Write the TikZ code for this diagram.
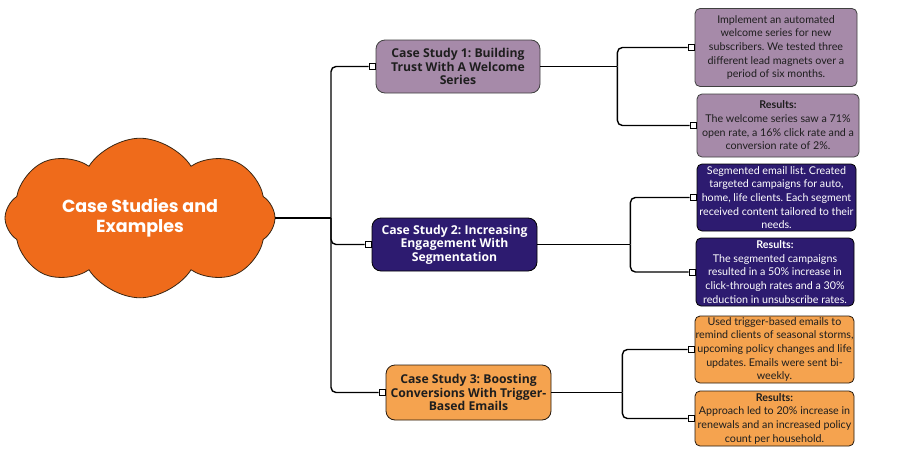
\documentclass[tikz,border=0pt]{standalone}
\usepackage{fontspec}
\setmainfont{Lato}
\newfontfamily\labelfont{Open Sans}
\newfontfamily\cloudfont{Poppins}
\usetikzlibrary{shapes.symbols}
\definecolor{cloudorange}{HTML}{EF6B1B}
\definecolor{cspurple}{HTML}{A68AA9}
\definecolor{csindigo}{HTML}{2D1B70}
\definecolor{csorange}{HTML}{F5A34F}
\definecolor{darktext}{HTML}{1E1E1E}
\tikzset{
  conn/.style={line width=1.4pt, rounded corners=5pt, draw=black},
  sq/.style={draw=black, fill=white, line width=1pt, minimum size=6pt, inner sep=0pt},
  csbox/.style={rounded corners=9pt, draw=black!75, line width=0.8pt, align=center, inner sep=0pt,
     font=\labelfont\fontsize{12.2}{13.4}\selectfont\bfseries},
  detbox/.style={rounded corners=5pt, draw=black!75, line width=0.8pt, align=center, inner sep=0pt,
     font=\frenchspacing\fontsize{10.7}{13.7}\selectfont},
  p1/.style={fill=cspurple, text=darktext},
  p2/.style={fill=csindigo, text=white, draw=black},
  p3/.style={fill=csorange, text=darktext, draw=black!80!brown},
}
\begin{document}
\frenchspacing
\begin{tikzpicture}[x=1pt,y=-1pt]
\useasboundingbox[fill=white] (0,0) rectangle (900,450);

% central cloud
\node[cloud, cloud puffs=8, cloud puff arc=115, aspect=1.8, draw=black!70!brown, fill=cloudorange,
      line width=0.8pt, minimum width=270pt, minimum height=150pt, inner sep=0pt,
      text=white, align=center, font=\cloudfont\fontsize{17.5}{20.5}\selectfont\bfseries]
      (cloud) at (140,218) {Case Studies and\\Examples};

% case studies
\node[csbox,p1,minimum width=164pt,minimum height=53pt] (cs1) at (458,66.5)
  {Case Study 1: Building\\Trust With A Welcome\\Series};
\node[csbox,p2,minimum width=165pt,minimum height=53pt] (cs2) at (454.5,244.5)
  {Case Study 2: Increasing\\Engagement With\\Segmentation};
\node[csbox,p3,minimum width=165pt,minimum height=55pt] (cs3) at (468.5,392.5)
  {Case Study 3: Boosting\\Conversions With Trigger-\\Based Emails};

% details
\node[detbox,p1,minimum width=162pt,minimum height=78pt] (r1a) at (776,47.5)
  {Implement an automated\\welcome series for new\\subscribers. We tested three\\different lead magnets over a\\period of six months.};
\node[detbox,p1,minimum width=162pt,minimum height=63pt] (r1b) at (778,125.5)
  {\textbf{Results:}\\The welcome series saw a 71\%\\open rate, a 16\% click rate and a\\conversion rate of 2\%.};
\node[detbox,p2,minimum width=159pt,minimum height=67pt] (r2a) at (776.5,197.5)
  {Segmented email list. Created\\targeted campaigns for auto,\\home, life clients. Each segment\\received content tailored to their\\needs.};
\node[detbox,p2,minimum width=158pt,minimum height=68pt] (r2b) at (775,272)
  {\textbf{Results:}\\The segmented campaigns\\resulted in a 50\% increase in\\click-through rates and a 30\%\\reduction in unsubscribe rates.};
\node[detbox,p3,minimum width=159pt,minimum height=67pt] (r3a) at (774.5,349.5)
  {Used trigger-based emails to\\remind clients of seasonal storms,\\upcoming policy changes and life\\updates. Emails were sent bi-\\weekly.};
\node[detbox,p3,minimum width=159pt,minimum height=55pt] (r3b) at (774.5,418.5)
  {\textbf{Results:}\\Approach led to 20\% increase in\\renewals and an increased policy\\count per household.};

% connector end squares
\foreach \n in {cs1,cs2,cs3,r1a,r1b,r2a,r2b,r3a,r3b}
  \node[sq] (\n p) at ([xshift=-3.5pt]\n.west) {};

% forks
\coordinate (f0) at (331,218);
\coordinate (f1) at ([xshift=77pt]cs1.east);
\coordinate (f2) at ([xshift=93pt]cs2.east);
\coordinate (f3) at ([xshift=71pt]cs3.east);

% trunk
\draw[conn] (cloud) -- (f0);
\draw[conn] (f0) |- (cs1p);
\draw[conn] (f0) |- (cs2p);
\draw[conn] (f0) |- (cs3p);

\draw[conn] (cs1) -- (f1);
\draw[conn] (f1) |- (r1ap);
\draw[conn] (f1) |- (r1bp);
\draw[conn] (cs2) -- (f2);
\draw[conn] (f2) |- (r2ap);
\draw[conn] (f2) |- (r2bp);
\draw[conn] (cs3) -- (f3);
\draw[conn] (f3) |- (r3ap);
\draw[conn] (f3) |- (r3bp);

\foreach \n in {cs1,cs2,cs3,r1a,r1b,r2a,r2b,r3a,r3b}
  \node[sq] at (\n p) {};
\end{tikzpicture}
\end{document}
